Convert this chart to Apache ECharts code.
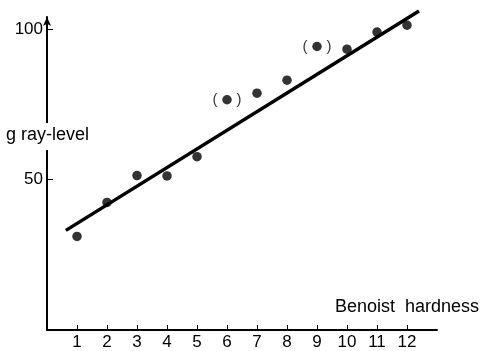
<!DOCTYPE html>
<html>
<head>
<meta charset="utf-8">
<script src="https://cdn.jsdelivr.net/npm/echarts@6/dist/echarts.min.js"></script>
<style>
  html, body { margin: 0; padding: 0; background: #fff; }
  #chart { width: 483px; height: 351px; }
</style>
</head>
<body>
<div id="chart"></div>
<script>
// measured points
var hardness = [1, 2, 3, 4, 5, 6, 7, 8, 9, 10, 11, 12];
var grayLevel = [31.1, 42.4, 51.3, 51.2, 57.6, 76.5, 78.7, 83, 94.2, 93.3, 99, 101.3];
// points shown in brackets
var bracketed = [6, 9];
// fitted straight line (two end points)
var fitX = [0.63, 12.4];
var fitY = [33.1, 106];
// tick labels
var xTicks = [1, 2, 3, 4, 5, 6, 7, 8, 9, 10, 11, 12];
var yTicks = [50, 100];

var font = 'Liberation Sans';

var pts = hardness.map(function (h, i) {
  var p = { value: [h, grayLevel[i]] };
  if (bracketed.indexOf(h) >= 0) {
    p.label = {
      show: true,
      position: 'inside',
      formatter: '(\u2003 )',
      color: '#000',
      fontFamily: font,
      fontSize: 15
    };
  }
  return p;
});

var line = fitX.map(function (x, i) { return [x, fitY[i]]; });

var chart = echarts.init(document.getElementById('chart'));
chart.setOption({
  animation: false,
  grid: { left: 47, right: 46, top: 17, bottom: 21 },
  xAxis: {
    type: 'value',
    min: 0,
    max: 13,
    interval: 1,
    splitLine: { show: false },
    axisLine: { lineStyle: { color: '#000', width: 2 } },
    axisTick: {
      inside: true, length: 5,
      customValues: xTicks,
      lineStyle: { color: '#000', width: 1 }
    },
    axisLabel: {
      customValues: xTicks,
      margin: 4,
      color: '#000',
      fontFamily: font,
      fontSize: 17
    }
  },
  yAxis: {
    type: 'value',
    min: 0,
    max: 104,
    interval: 50,
    splitLine: { show: false },
    axisLine: {
      symbol: ['none', 'arrow'],
      symbolSize: [6, 9],
      lineStyle: { color: '#000', width: 2 }
    },
    axisTick: {
      inside: true, length: 6,
      customValues: yTicks,
      lineStyle: { color: '#000', width: 1 }
    },
    axisLabel: {
      customValues: yTicks,
      margin: 4,
      color: '#000',
      fontFamily: font,
      fontSize: 17
    }
  },
  graphic: [
    {
      type: 'rect', z: 100,
      shape: { x: 3, y: 123, width: 92, height: 27 },
      style: { fill: '#fff' }
    },
    {
      type: 'text', left: 6, top: 126, z: 101,
      style: { text: 'g ray-level', fill: '#000', font: '18px "' + font + '"' }
    },
    {
      type: 'text', left: 335, top: 298,
      style: { text: 'Benoist  hardness', fill: '#000', font: '18px "' + font + '"' }
    }
  ],
  series: [
    {
      type: 'line',
      data: line,
      clip: false,
      symbol: 'none',
      lineStyle: { color: '#000', width: 3.5 },
      z: 2
    },
    {
      type: 'scatter',
      data: pts,
      symbolSize: 9.5,
      itemStyle: { color: '#000' },
      z: 3
    }
  ]
});
</script>
</body>
</html>
